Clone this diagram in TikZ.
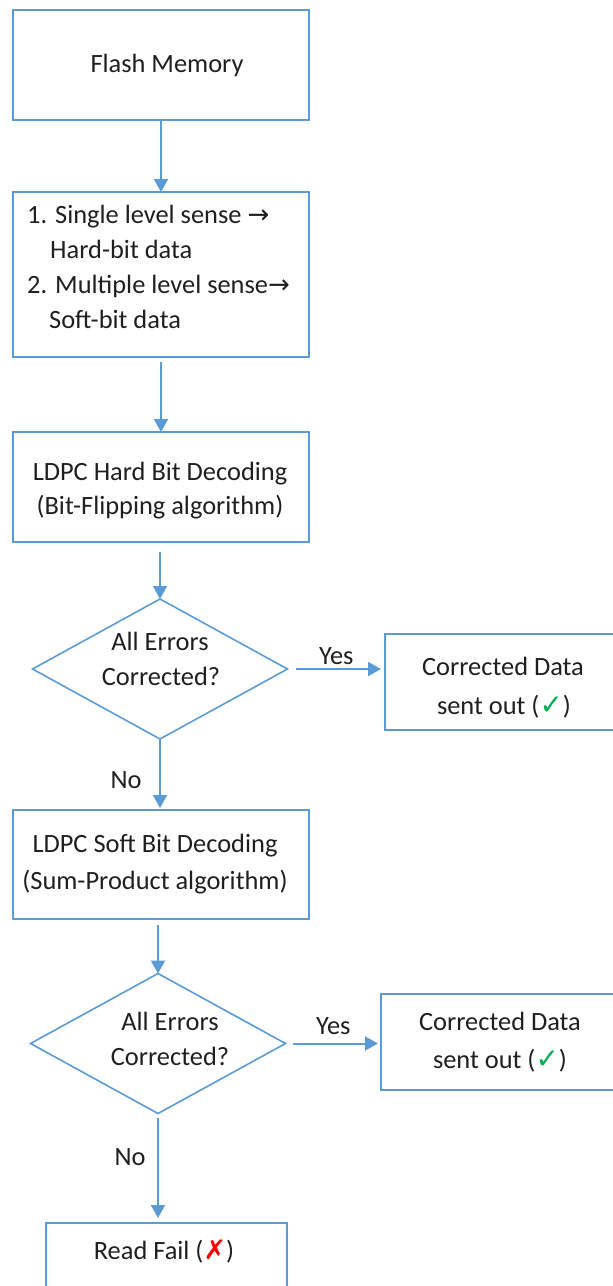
\documentclass[tikz,border=0pt]{standalone}
\usepackage{fontspec}
\setmainfont{Carlito}
\newfontfamily\symfont{DejaVu Sans}
\usetikzlibrary{shapes.geometric,arrows.meta}
\definecolor{flowblue}{HTML}{5B9BD5}
\definecolor{okgreen}{HTML}{00B050}
\definecolor{failred}{HTML}{FF0000}
\newcommand{\tick}{{\symfont\color{okgreen}\fontsize{28}{30}\selectfont ✓}}
\newcommand{\cross}{{\symfont\bfseries\color{failred}\fontsize{27}{30}\selectfont ✗}}
\newcommand{\rarr}{{\symfont\fontsize{26}{30}\selectfont →}}
\begin{document}
\begin{tikzpicture}[x=1pt,y=-1pt,
  stepbox/.style={draw=flowblue, line width=2pt, rectangle, inner sep=0pt, outer sep=0pt},
  decision/.style={draw=flowblue, line width=1.6pt, diamond, inner sep=0pt, outer sep=0pt},
  txt/.style={font=\fontsize{26.4}{36}\selectfont, text=black!88, inner sep=0pt, anchor=base},
  txtl/.style={txt, anchor=base west},
  flow/.style={draw=flowblue, line width=2pt, -{Triangle[length=13pt,width=14pt]}},
]
\useasboundingbox (0,0) rectangle (613,1286);
\clip (0,0) rectangle (613,1286);

% process boxes
\node[stepbox, minimum width=296pt, minimum height=110pt] (mem)  at (161,65)    {};
\node[stepbox, minimum width=296pt, minimum height=165pt] (prep) at (161,274.5) {};
\node[stepbox, minimum width=296pt, minimum height=110pt] (hard) at (161,487)   {};
\node[stepbox, minimum width=235pt, minimum height=96pt]  (out1) at (502.5,682) {};
\node[stepbox, minimum width=296pt, minimum height=109pt] (soft) at (161,864.5) {};
\node[stepbox, minimum width=239pt, minimum height=96pt]  (out2) at (500.5,1042) {};
\node[stepbox, minimum width=241pt, minimum height=90pt]  (fail) at (166.5,1268) {};

% decisions
\node[decision, minimum width=255pt, minimum height=140pt] (chk1) at (160,669)    {};
\node[decision, minimum width=255pt, minimum height=140pt] (chk2) at (158,1043.5) {};

% texts
\node[txt] (tmem) at (167,72) {Flash Memory};
\node[txtl] (tp1) at (27,223) {1. Single level sense \rarr};
\node[txtl] (tp2) at (50,258) {Hard-bit data};
\node[txtl] (tp3) at (27,293) {2. Multiple level sense\rarr};
\node[txtl] (tp4) at (49,328) {Soft-bit data};
\node[txt] (th1) at (160,480) {LDPC Hard Bit Decoding};
\node[txt] (th2) at (160,514) {(Bit-Flipping algorithm)};
\node[txt] (tc1a) at (160,650) {All Errors};
\node[txt] (tc1b) at (161,685) {Corrected?};
\node[txt] (to1a) at (503,675) {Corrected Data};
\node[txt] (to1b) at (504,714) {sent out (\tick)};
\node[txt] (ts1) at (155,852) {LDPC Soft Bit Decoding};
\node[txt] (ts2) at (155,889) {(Sum-Product algorithm)};
\node[txt] (tc2a) at (170,1030) {All Errors};
\node[txt] (tc2b) at (170,1065) {Corrected?};
\node[txt] (to2a) at (500,1030) {Corrected Data};
\node[txt] (to2b) at (500,1068) {sent out (\tick)};
\node[txt] (tf) at (164,1259) {Read Fail (\cross)};

% connectors
\draw[flow] (mem.south) -- (prep.north);
\draw[flow, shorten <=5pt] (prep.south) -- (hard.north);
\draw[flow, shorten <=10pt] (hard.south -| chk1.north) -- (chk1.north);
\draw[flow, shorten <=8pt, shorten >=4pt] (chk1.east) -- (chk1.east -| out1.west)
  node[txt, midway, above=5pt, anchor=base] (yes1) {Yes};
\draw[flow, shorten >=2pt] (chk1.south) -- (chk1.south |- soft.north);
\draw[flow, shorten <=6pt] (soft.south -| chk2.north) -- (chk2.north);
\draw[flow, shorten <=7pt, shorten >=3pt] (chk2.east) -- (chk2.east -| out2.west)
  node[txt, midway, above=9pt, anchor=base] (yes2) {Yes};
\draw[flow, shorten <=4pt, shorten >=5pt] (chk2.south) -- (chk2.south |- fail.north);

% branch labels
\node[txt] (no1) at (126,788) {No};
\node[txt] (no2) at (130,1165) {No};
\end{tikzpicture}
\end{document}
